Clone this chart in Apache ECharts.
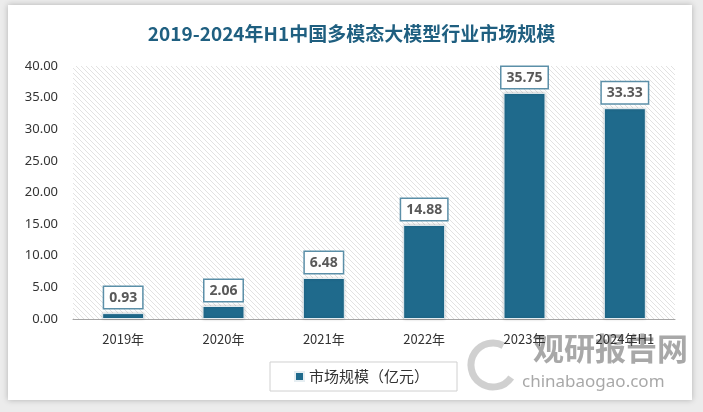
<!DOCTYPE html>
<html><head><meta charset="utf-8">
<script src="https://cdn.jsdelivr.net/npm/echarts@6/dist/echarts.min.js"></script>
<style>html,body{margin:0;padding:0;background:#ececec;}#c{width:703px;height:412px;}</style>
</head><body><div id="c"></div>
<script>
const categories = ['2019年','2020年','2021年','2022年','2023年','2024年H1'];
const values = [0.93, 2.06, 6.48, 14.88, 35.75, 33.33];
const seriesName = '市场规模（亿元）';
const titleText = '2019-2024年H1中国多模态大模型行业市场规模';
const yTicks = {min: 0, max: 40, interval: 5};

// hatched pattern
const pc = document.createElement('canvas');
pc.width = 5; pc.height = 5;
const px = pc.getContext('2d');
px.fillStyle = '#ffffff'; px.fillRect(0,0,5,5);
px.strokeStyle = '#e2e2e2'; px.lineWidth = 1;
px.beginPath();
px.moveTo(-1,-1); px.lineTo(6,6);
px.moveTo(-1,4); px.lineTo(1,6);
px.moveTo(4,-1); px.lineTo(6,1);
px.stroke();

const chart = echarts.init(document.getElementById('c'));
chart.setOption({
  backgroundColor: '#ececec',
  animation: false,
  title: {
    text: titleText, left: 'center', top: 19,
    textStyle: {color: '#1f5f80', fontSize: 19, fontWeight: 'bold', fontFamily: 'Noto Sans CJK SC'}
  },
  graphic: [
    {type: 'rect', z: -10, shape: {x: 8, y: 5, width: 684, height: 395},
     style: {fill: '#ffffff', shadowBlur: 6, shadowColor: 'rgba(0,0,0,0.25)'}},
    {type: 'text', z: 0, left: 533, top: 333,
     style: {text: '观研报告网', fill: 'rgba(110,110,110,0.6)', font: 'bold 31px "Noto Sans CJK SC"'}},
    {type: 'text', z: 0, left: 522, top: 374,
     style: {text: 'chinabaogao.com', fill: 'rgba(110,110,110,0.6)', font: '17px "Noto Sans"'}},
    {type: 'arc', z: 0, shape: {cx: 493, cy: 365, r: 22, startAngle: 0.6, endAngle: 5.2},
     style: {fill: 'none', stroke: 'rgba(150,150,150,0.45)', lineWidth: 7}}
  ],
  grid: {left: 73, right: 28, top: 66, bottom: 93, show: true, borderWidth: 0,
         backgroundColor: {image: pc, repeat: 'repeat'}},
  legend: {
    bottom: 21, left: 270, itemWidth: 9, itemHeight: 9, icon: 'rect',
    padding: [7, 28, 7, 24], borderColor: '#d0d0d0', borderWidth: 1, backgroundColor: '#fff',
    itemGap: 6,
    textStyle: {fontSize: 15, color: '#333', fontFamily: 'Noto Sans CJK SC'}
  },
  xAxis: {
    type: 'category', data: categories,
    axisLine: {lineStyle: {color: '#a6a6a6'}},
    axisTick: {show: false},
    axisLabel: {color: '#333', fontSize: 13, margin: 14, fontFamily: 'Noto Sans CJK SC'}
  },
  yAxis: {
    type: 'value', min: yTicks.min, max: yTicks.max, interval: yTicks.interval,
    splitLine: {show: false},
    axisLine: {show: false}, axisTick: {show: false},
    axisLabel: {color: '#333', fontSize: 13, margin: 15, fontFamily: 'Noto Sans',
                formatter: v => v.toFixed(2)}
  },
  series: [{
    name: seriesName, type: 'bar', data: values, barWidth: 42,
    itemStyle: {color: '#1f6a8c', borderColor: '#e6eef2', borderWidth: 1,
                shadowBlur: 3, shadowColor: 'rgba(0,0,0,0.2)'},
    label: {
      show: true, position: 'top', distance: 5,
      formatter: p => p.value.toFixed(2),
      color: '#595959', fontSize: 14, fontWeight: 'bold', fontFamily: 'Noto Sans',
      backgroundColor: '#fff', borderColor: '#5b8fa8', borderWidth: 1.5,
      padding: [4, 5, 3, 5]
    }
  }]
});
</script></body></html>
